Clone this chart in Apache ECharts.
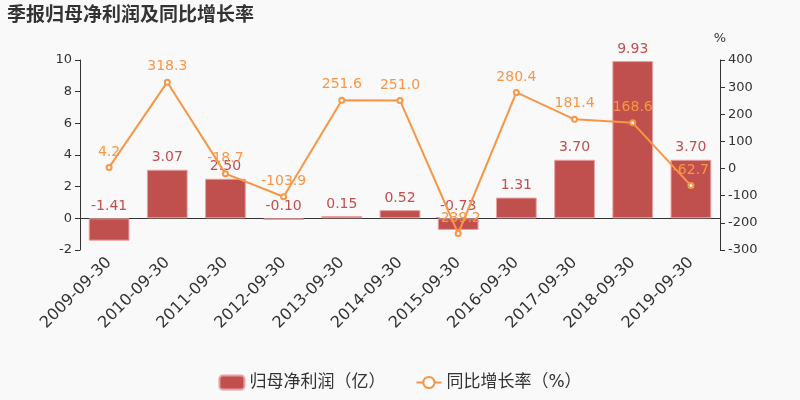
<!DOCTYPE html>
<html><head><meta charset="utf-8">
<script src="https://cdn.jsdelivr.net/npm/echarts@6/dist/echarts.min.js"></script>
<style>html,body{margin:0;padding:0;background:#f9f9f9}#c{width:800px;height:400px}</style>
</head><body><div id="c"></div>
<script>
const categories = ['2009-09-30','2010-09-30','2011-09-30','2012-09-30','2013-09-30','2014-09-30','2015-09-30','2016-09-30','2017-09-30','2018-09-30','2019-09-30'];
const profit = [-1.41, 3.07, 2.50, -0.10, 0.15, 0.52, -0.73, 1.31, 3.70, 9.93, 3.70];
const growth = [4.2, 318.3, -18.7, -103.9, 251.6, 251.0, -239.2, 280.4, 181.4, 168.6, -62.7];
const profitName = '归母净利润（亿）';
const growthName = '同比增长率（%）';

const font = 'DejaVu Sans, Noto Sans CJK SC, sans-serif';
const chart = echarts.init(document.getElementById('c'));
chart.setOption({
  backgroundColor: '#f9f9f9',
  textStyle: {fontFamily: font},
  animation: false,
  title: {text: '季报归母净利润及同比增长率', left: 2, top: 2,
    textStyle: {fontSize: 19, fontWeight: 'bold', color: '#333', fontFamily: font}},
  legend: {bottom: 4, left: 'center', itemWidth: 25, itemHeight: 14, itemGap: 30,
    textStyle: {fontSize: 17, color: '#333'},
    data: [profitName, growthName]},
  grid: {left: 80, right: 80, top: 60, bottom: 150},
  xAxis: {type: 'category', data: categories,
    axisLine: {lineStyle: {color: '#333'}},
    axisTick: {lineStyle: {color: '#333'}},
    axisLabel: {rotate: 45, fontSize: 16, color: '#333', interval: 0, margin: 10}},
  yAxis: [
    {type: 'value', min: -2, max: 10, interval: 2, splitLine: {show: false},
      axisLine: {show: true, lineStyle: {color: '#333'}}, axisTick: {show: true},
      axisLabel: {fontSize: 13, color: '#333'}},
    {type: 'value', min: -300, max: 400, interval: 100, splitLine: {show: false},
      name: '%', nameTextStyle: {fontSize: 13, color: '#333'}, nameGap: 15,
      axisLine: {show: true, lineStyle: {color: '#333'}}, axisTick: {show: true},
      axisLabel: {fontSize: 13, color: '#333'}}
  ],
  series: [
    {name: profitName, type: 'bar', data: profit, barWidth: '70%', yAxisIndex: 0,
      itemStyle: {color: '#c0504d', borderColor: '#e8a0a0', borderWidth: 1},
      label: {show: true, position: 'top', color: '#c0504d', fontSize: 14,
        formatter: p => p.value.toFixed(2)}},
    {name: growthName, type: 'line', data: growth, yAxisIndex: 1,
      symbol: 'emptyCircle', symbolSize: 5,
      lineStyle: {color: '#f79646', width: 2}, itemStyle: {color: '#f79646'},
      label: {show: true, position: 'top', color: '#f79646', fontSize: 14,
        formatter: p => p.value.toFixed(1)}}
  ]
});
</script></body></html>
